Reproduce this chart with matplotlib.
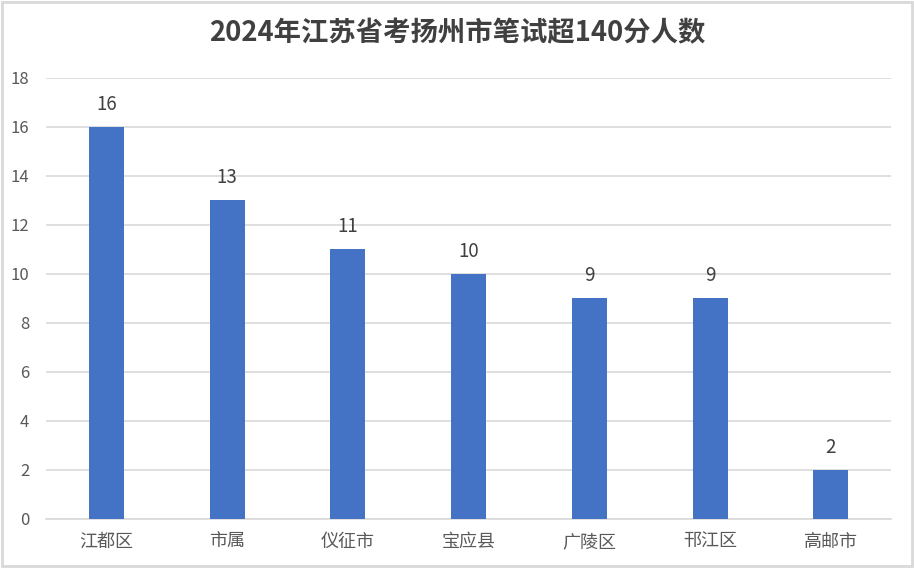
import matplotlib.pyplot as plt
import numpy as np

plt.rcParams['font.family'] = ['Noto Sans CJK SC', 'DejaVu Sans']

districts = ["江都区", "市属", "仪征市", "宝应县", "广陵区", "邗江区", "高邮市"]
counts = [16, 13, 11, 10, 9, 9, 2]
yticks = [0, 2, 4, 6, 8, 10, 12, 14, 16, 18]

fig = plt.figure(figsize=(9.14, 5.68), dpi=100)
ax = fig.add_axes([0.0503, 0.0863, 0.9247, 0.7764])

x = np.arange(len(districts))
bars = ax.bar(x, counts, width=0.29, color="#4472C4", zorder=3)

# labels above each bar
for xi, v in zip(x, counts):
    ax.text(xi, v + 0.5, str(v), ha="center", va="bottom",
            fontsize=13.5, color="#404040")

ax.set_xlim(-0.5, len(districts) - 0.5)
ax.set_ylim(0, 18)
ax.set_yticks(yticks)
ax.set_xticks(x)
ax.set_xticklabels(districts, fontsize=13, color="#595959")
ax.tick_params(axis="y", labelsize=12, labelcolor="#595959", length=0, pad=12)
ax.tick_params(axis="x", length=0, pad=10)
ax.grid(axis="y", color="#d9d9d9", linewidth=1.2, zorder=0)
for s in ["top", "right", "left"]:
    ax.spines[s].set_visible(False)
ax.spines["bottom"].set_color("#d9d9d9")
ax.spines["bottom"].set_linewidth(1.2)

fig.text(0.5, 0.942, "2024年江苏省考扬州市笔试超140分人数", ha="center", va="center",
         fontsize=19.7, fontweight="bold", color="#404040")

# outer frame
fig.patches.append(plt.Rectangle((0.002, 0.003), 0.996, 0.994, transform=fig.transFigure,
                                 fill=False, edgecolor="#d9d9d9", linewidth=2))

fig.savefig("out.png", dpi=100)
